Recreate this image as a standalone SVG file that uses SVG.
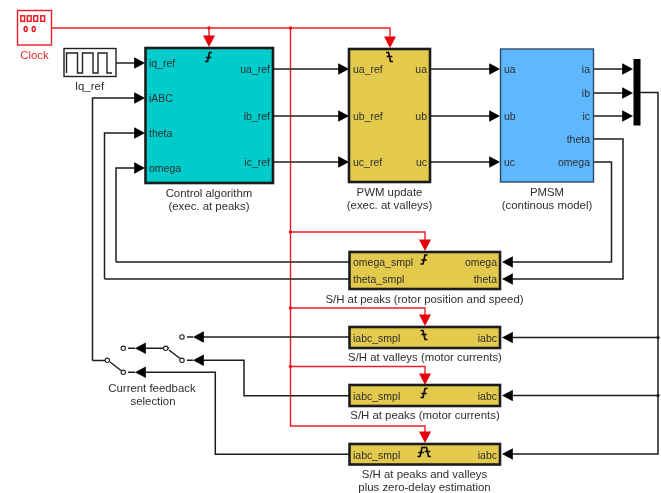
<svg xmlns="http://www.w3.org/2000/svg" width="661" height="493" viewBox="0 0 661 493">
<style>
text{font-family:"Liberation Sans",Arial,sans-serif;font-size:10.500px;fill:#2e2e2e}
.cap{font-size:11.400px}
.m{text-anchor:middle}.e{text-anchor:end}
.c{fill:none;stroke:#1c1c1c;stroke-width:1.500}
.r{fill:none;stroke:#ee1c25;stroke-width:1.400}
.a{fill:#000;stroke:none}
.ra{fill:#e8000a;stroke:none}
.b{stroke:#1c1c1c;stroke-width:2.600}
.y{fill:#e3ca4d}
.t{fill:none;stroke:#111;stroke-width:1.700}
.o{fill:#fff;stroke:#222;stroke-width:1.100}
</style>
<defs>
<filter id="soft" x="0" y="0" width="100%" height="100%"><feGaussianBlur stdDeviation="0.350"/></filter>
<path id="ar" class="a" d="M0 0l-10.800-5.700v11.400z"/>
<path id="al" class="a" d="M0 0l10.800-5.700v11.400z"/>
<path id="rd" class="ra" d="M0 0l-6-11.500h12z"/>
<path id="fall" class="t" d="M-3.500 4.500h2.500l2-9h2.500M-2.800 .5h5.600"/>
<path id="rise" class="t" d="M-3.500-4.500h2.500l2 9h2.500M-2.800 -.5h5.600"/>
</defs>
<g filter="url(#soft)">
<rect width="661" height="493" fill="#fff"/>
<g id="connectors">
<path class="r" d="M52 28H390V42M209 28V42M290.500 28V426H425V434M290.500 232H425V241M290.500 308H425V316M290.500 366.500H425V375"/>
<circle cx="209" cy="28" r="1.700" fill="#e8101a"/><circle cx="290.500" cy="28" r="1.700" fill="#e8101a"/>
<circle cx="290.500" cy="232" r="1.700" fill="#e8101a"/><circle cx="290.500" cy="308" r="1.700" fill="#e8101a"/><circle cx="290.500" cy="366.500" r="1.700" fill="#e8101a"/>
<use href="#rd" x="209" y="47"/><use href="#rd" x="390" y="48"/><use href="#rd" x="425" y="251"/><use href="#rd" x="425" y="326"/><use href="#rd" x="425" y="385"/><use href="#rd" x="425" y="443"/>
<path class="c" d="M116 63H136M92.500 360.500V98H136M104.500 279V133H136M116 262V168H136M273 69H340M273 116H340M273 162H340M430 69H490M430 116H490M430 162H490M593 69H624M593 93H624M593 116H624M640 92.500H658V454H510M658 337.500H510M658 395.500H510M593 139H623V279H510M593 162H611.500V262H510"/>
<path class="c" d="M349 262H116M349 279H104.500M349 337H202M349 395.700H244V360.300H202M349 454.300H215.300V372.300H145M145 348.300H169M92.500 360.500H105M169 350L180 358.500M110 362L121 370.500M128 348.300H135M187 337H193M187 360.300H193M128 372.300H135"/>
<circle cx="658" cy="337.500" r="1.700" fill="#222"/><circle cx="658" cy="395.500" r="1.700" fill="#222"/>
<use href="#ar" x="145" y="63"/><use href="#ar" x="145" y="98"/><use href="#ar" x="145" y="133"/><use href="#ar" x="145" y="168"/>
<use href="#ar" x="349" y="69"/><use href="#ar" x="349" y="116"/><use href="#ar" x="349" y="162"/>
<use href="#ar" x="500" y="69"/><use href="#ar" x="500" y="116"/><use href="#ar" x="500" y="162"/>
<use href="#ar" x="633" y="69"/><use href="#ar" x="633" y="93"/><use href="#ar" x="633" y="116"/>
<use href="#al" x="502" y="262"/><use href="#al" x="502" y="279"/><use href="#al" x="502" y="337.500"/><use href="#al" x="502" y="395.500"/><use href="#al" x="502" y="454"/>
<use href="#al" x="193" y="337"/><use href="#al" x="135" y="348.300"/><use href="#al" x="193" y="360.300"/><use href="#al" x="135" y="372.300"/>
</g>
<g id="clock">
<rect x="17.500" y="10.500" width="34" height="34.500" fill="#fff" stroke="#ee1c25" stroke-width="1.400"/>
<g fill="none" stroke="#ee1c25" stroke-width="1.500"><rect x="20.800" y="15.800" width="3.800" height="5.500"/><rect x="27.300" y="15.800" width="3.800" height="5.500"/><rect x="33.800" y="15.800" width="3.800" height="5.500"/><rect x="40.800" y="15.800" width="3.800" height="5.500"/><ellipse cx="25.700" cy="29" rx="1.500" ry="2.500"/><ellipse cx="33.700" cy="29" rx="1.500" ry="2.500"/></g>
<text class="m cap" x="34.500" y="59" style="fill:#ee2a33">Clock</text>
</g>
<g id="iq_ref">
<rect x="64" y="48.500" width="52" height="28" fill="#fff" stroke="#222" stroke-width="1.400"/>
<path fill="none" stroke="#222" stroke-width="1.400" d="M66.500 73V53H77.500V73H82.500V53H93V73H98V53H107V73H112"/>
<text class="m cap" x="89.500" y="90">Iq_ref</text>
</g>
<g id="control">
<rect class="b" x="145.500" y="48" width="127.500" height="135" fill="#00cccc"/>
<use href="#fall" x="208.500" y="57"/>
<text x="149" y="67">iq_ref</text><text x="149" y="102">iABC</text><text x="149" y="137">theta</text><text x="149" y="172">omega</text>
<text class="e" x="270" y="73">ua_ref</text><text class="e" x="270" y="120">ib_ref</text><text class="e" x="270" y="166">ic_ref</text>
<text class="m cap" x="209" y="197">Control algorithm</text><text class="m cap" x="209" y="210">(exec. at peaks)</text>
</g>
<g id="pwm">
<rect class="b y" x="349" y="49" width="81" height="133"/>
<use href="#rise" x="389.500" y="57"/>
<text x="353" y="73">ua_ref</text><text x="353" y="120">ub_ref</text><text x="353" y="166">uc_ref</text>
<text class="e" x="427" y="73">ua</text><text class="e" x="427" y="120">ub</text><text class="e" x="427" y="166">uc</text>
<text class="m cap" x="389.500" y="196">PWM update</text><text class="m cap" x="389.500" y="209">(exec. at valleys)</text>
</g>
<g id="pmsm">
<rect x="500.500" y="49" width="93" height="133" fill="#5db8ff" stroke="#2c4a66" stroke-width="1.400"/>
<text x="504" y="73">ua</text><text x="504" y="120">ub</text><text x="504" y="166">uc</text>
<text class="e" x="590" y="73">ia</text><text class="e" x="590" y="97">ib</text><text class="e" x="590" y="120">ic</text><text class="e" x="590" y="143">theta</text><text class="e" x="590" y="166">omega</text>
<text class="m cap" x="547" y="196">PMSM</text><text class="m cap" x="547" y="209">(continous model)</text>
</g>
<g id="mux"><rect x="633.500" y="59" width="7" height="66.500" fill="#000"/></g>
<g id="sh1">
<rect class="b y" x="349.500" y="252" width="150.500" height="37"/>
<use href="#fall" x="424" y="259.500"/>
<text x="353" y="266">omega_smpl</text><text x="353" y="283">theta_smpl</text>
<text class="e" x="497" y="266">omega</text><text class="e" x="497" y="283">theta</text>
<text class="m cap" x="424.500" y="303">S/H at peaks (rotor position and speed)</text>
</g>
<g id="sh2">
<rect class="b y" x="349.500" y="327" width="150.500" height="21"/>
<use href="#rise" x="424" y="335"/>
<text x="353" y="342">iabc_smpl</text><text class="e" x="497" y="342">iabc</text>
<text class="m cap" x="425" y="361">S/H at valleys (motor currents)</text>
</g>
<g id="sh3">
<rect class="b y" x="349.500" y="385" width="150.500" height="21"/>
<use href="#fall" x="424" y="393"/>
<text x="353" y="400">iabc_smpl</text><text class="e" x="497" y="400">iabc</text>
<text class="m cap" x="425" y="419">S/H at peaks (motor currents)</text>
</g>
<g id="sh4">
<rect class="b y" x="349.500" y="444" width="150.500" height="20.500"/>
<use href="#fall" x="421" y="452"/><use href="#rise" x="427.500" y="452"/>
<text x="353" y="459">iabc_smpl</text><text class="e" x="497" y="459">iabc</text>
<text class="m cap" x="424.500" y="478">S/H at peaks and valleys</text><text class="m cap" x="424.500" y="491">plus zero-delay estimation</text>
</g>
<g id="switches">
<circle class="o" cx="182" cy="337" r="2.200"/><circle class="o" cx="123.300" cy="348.300" r="2.200"/><circle class="o" cx="165.700" cy="348.300" r="2.200"/><circle class="o" cx="182" cy="360.300" r="2.200"/><circle class="o" cx="107.300" cy="360.300" r="2.200"/><circle class="o" cx="123.300" cy="372.300" r="2.200"/>
<text class="m cap" x="152" y="392">Current feedback</text><text class="m cap" x="153" y="405">selection</text>
</g>
</g>
</svg>
